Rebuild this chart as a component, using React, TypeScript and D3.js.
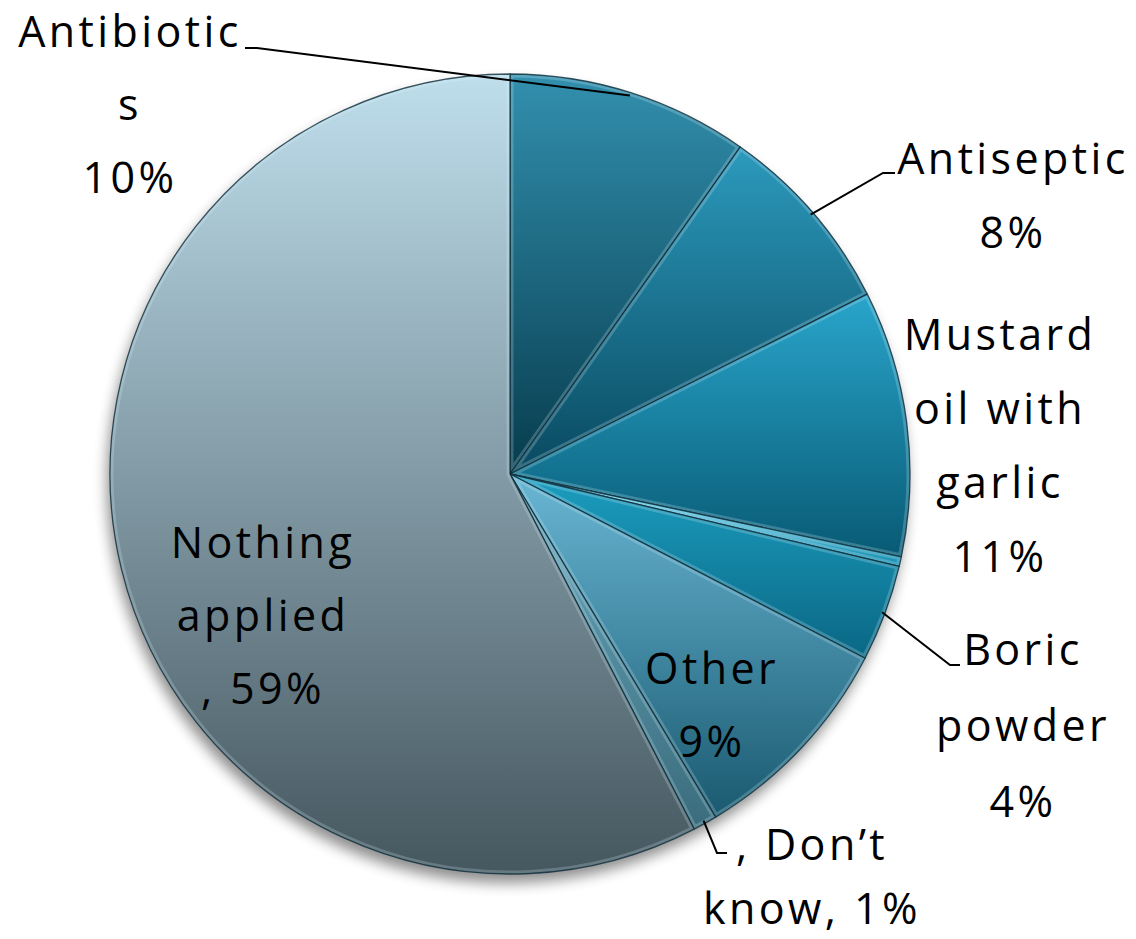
import React from "react";
import * as d3 from "d3";

// Treatments applied, clockwise from 12 o'clock
const categories = [
  "Antibiotics",
  "Antiseptic",
  "Mustard oil with garlic",
  "Unlabelled",
  "Boric powder",
  "Other",
  "Don't know",
  "Nothing applied",
];
const values = [10, 8, 11, 0.4, 4, 9, 1, 59];

// Wrapped label text; {v} is replaced by the slice's percentage
const labelLines = [
  ["Antibiotic", "s", "{v}"],
  ["Antiseptic", "{v}"],
  ["Mustard", "oil with", "garlic", "{v}"],
  [],
  ["Boric", "powder", "{v}"],
  ["Other", "{v}"],
  [", Don\u2019t", "know, {v}"],
  ["Nothing", "applied", ", {v}"],
];

const topColors = ["#3290ae", "#2c9abd", "#29a5cb", "#8ae2f8", "#1c9ec0", "#69b6d4", "#6aaac0", "#bfdeec"];
const bottomColors = ["#073c4e", "#09495f", "#085a74", "#1a8fb0", "#0a6784", "#1a5a70", "#3a6c7c", "#45575f"];

const W = 1136;
const H = 939;
const cx = 510;
const cy = 474;
const R = 400;

// label blocks: centre x, first baseline, line step
const labelPos = [
  { x: 130, y: 47, step: 73 },
  { x: 1013, y: 174, step: 74 },
  { x: 1000, y: 350, step: 74 },
  null,
  { x: 1023, y: 665, step: 76 },
  { x: 712, y: 684, step: 73 },
  { x: 812, y: 860, step: 64 },
  { x: 263, y: 558, step: 73 },
];

// leader lines: label-side end and elbow
const leaders = [
  { end: [245, 48], elbow: [257, 48] },
  { end: [895, 173], elbow: [883, 173] },
  null,
  null,
  { end: [960, 665], elbow: [950, 665] },
  null,
  { end: [727, 853], elbow: [717, 853] },
  null,
];

export default function App() {
  const pie = d3.pie<number>().sort(null).value((d) => d);
  const arcs = pie(values);
  const arc = d3.arc<d3.PieArcDatum<number>>().innerRadius(0).outerRadius(R);
  const leaderArc = d3.arc<d3.PieArcDatum<number>>().innerRadius(R - 3).outerRadius(R - 3);

  return (
    <svg
      width={W}
      height={H}
      style={{ position: "absolute", left: 0, top: 0, background: "#fff" }}
      fontFamily="'Open Sans', sans-serif"
    >
      <defs>
        <filter id="pieShadow" x="-20%" y="-20%" width="140%" height="140%">
          <feGaussianBlur in="SourceAlpha" stdDeviation="7" />
          <feOffset dx="-3" dy="9" result="b" />
          <feComponentTransfer>
            <feFuncA type="linear" slope="0.45" />
          </feComponentTransfer>
        </filter>
        {arcs.map((a, i) => (
          <linearGradient key={"g" + i} id={"grad" + i} x1="0" y1="0" x2="0" y2="1">
            <stop offset="0" stopColor={topColors[i]} />
            <stop offset="1" stopColor={bottomColors[i]} />
          </linearGradient>
        ))}
        {arcs.map((a, i) => (
          <clipPath key={"c" + i} id={"clip" + i}>
            <path d={arc(a) || ""} />
          </clipPath>
        ))}
      </defs>

      <g transform={`translate(${cx},${cy})`}>
        <circle r={R} fill="#000" filter="url(#pieShadow)" />
        {arcs.map((a, i) => (
          <g key={"s" + i}>
            <path d={arc(a) || ""} fill={`url(#grad${i})`} />
            {/* bevel: soft light rim inside each slice */}
            <path
              d={arc(a) || ""}
              fill="none"
              stroke="#dff6ff"
              strokeOpacity={0.22}
              strokeWidth={7}
              clipPath={`url(#clip${i})`}
            />
            <path
              d={arc(a) || ""}
              fill="none"
              stroke="#0c2c38"
              strokeOpacity={0.8}
              strokeWidth={1.3}
              strokeLinejoin="round"
            />
          </g>
        ))}
        {arcs.map((a, i) => {
          const l = leaders[i];
          if (!l) return null;
          const [px, py] = leaderArc.centroid(a);
          const pts = [[px + cx, py + cy], l.elbow, l.end];
          return (
            <polyline
              key={"l" + i}
              transform={`translate(${-cx},${-cy})`}
              points={pts.map((p) => p.join(",")).join(" ")}
              fill="none"
              stroke="#000"
              strokeWidth={2}
            />
          );
        })}
      </g>

      {arcs.map((a, i) => {
        const p = labelPos[i];
        if (!p) return null;
        const pct = `${values[i]}%`;
        return (
          <text key={"t" + i} textAnchor="middle" fontSize={43} letterSpacing={3.4} fill="#000">
            {labelLines[i].map((ln, j) => (
              <tspan key={j} x={p.x} y={p.y + j * p.step}>
                {ln.replace("{v}", pct)}
              </tspan>
            ))}
          </text>
        );
      })}
    </svg>
  );
}
